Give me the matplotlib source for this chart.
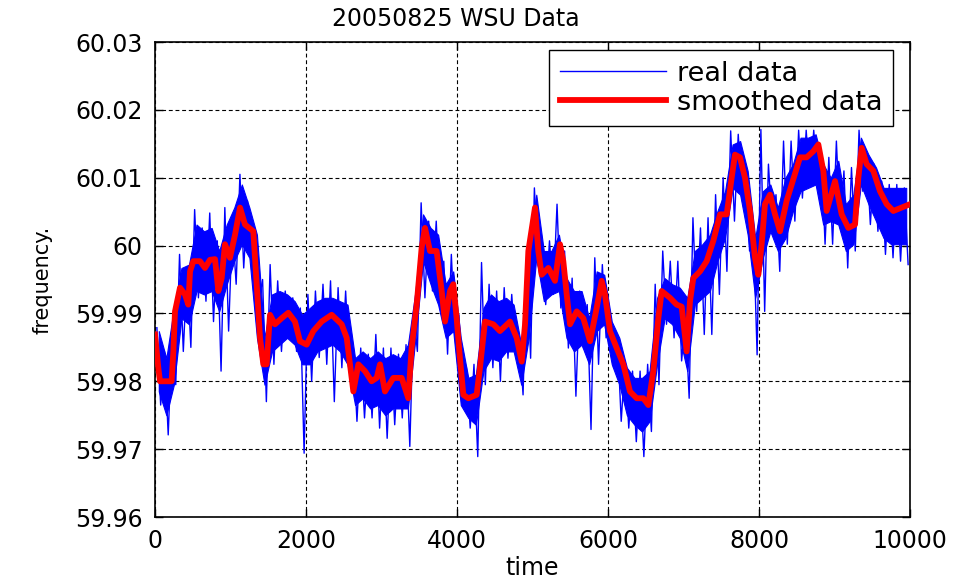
import numpy as np
import matplotlib
matplotlib.use("Agg")
import matplotlib.pyplot as plt
from matplotlib.lines import Line2D

# smoothed curve (time, frequency)
smooth_t = [0, 44, 66, 220, 243, 265, 331, 397, 441, 464, 508, 596, 662, 728, 795,
            839, 883, 927, 993, 1060, 1126, 1192, 1302, 1347, 1391, 1435, 1479, 1523,
            1589, 1678, 1766, 1854, 1920, 2009, 2097, 2207, 2340, 2472, 2539, 2627,
            2693, 2781, 2869, 2936, 2980, 3046, 3157, 3267, 3355, 3399, 3466, 3532,
            3576, 3642, 3730, 3797, 3841, 3907, 3951, 3995, 4039, 4084, 4150, 4260,
            4304, 4371, 4481, 4569, 4702, 4790, 4857, 4901, 4945, 5033, 5077, 5121,
            5210, 5298, 5364, 5408, 5453, 5497, 5585, 5673, 5762, 5850, 5916, 5960,
            6026, 6115, 6203, 6291, 6380, 6468, 6534, 6600, 6667, 6711, 6821, 6909,
            6976, 7042, 7086, 7130, 7219, 7307, 7395, 7484, 7572, 7638, 7682, 7748,
            7814, 7881, 7947, 7991, 8035, 8079, 8146, 8212, 8278, 8366, 8433, 8543,
            8631, 8720, 8786, 8852, 8896, 9007, 9095, 9183, 9272, 9316, 9360, 9426,
            9514, 9603, 9691, 9779, 9890, 10000]
smooth_f = [59.9869, 59.9820, 59.9800, 59.9800, 59.9844, 59.9903, 59.9938, 59.9928,
            59.9913, 59.9962, 59.9977, 59.9977, 59.9967, 59.9979, 59.9980, 59.9933,
            59.9952, 60.0002, 59.9982, 60.0016, 60.0056, 60.0031, 60.0021, 59.9943,
            59.9864, 59.9825, 59.9825, 59.9898, 59.9884, 59.9893, 59.9901, 59.9888,
            59.9859, 59.9854, 59.9874, 59.9888, 59.9898, 59.9884, 59.9864, 59.9785,
            59.9825, 59.9815, 59.9800, 59.9805, 59.9825, 59.9785, 59.9805, 59.9805,
            59.9775, 59.9849, 59.9913, 59.9997, 60.0026, 59.9992, 59.9992, 59.9933,
            59.9888, 59.9933, 59.9943, 59.9893, 59.9834, 59.9780, 59.9775, 59.9780,
            59.9820, 59.9888, 59.9884, 59.9874, 59.9888, 59.9864, 59.9829, 59.9884,
            59.9992, 60.0056, 59.9992, 59.9957, 59.9967, 59.9948, 60.0002, 59.9977,
            59.9928, 59.9884, 59.9903, 59.9893, 59.9859, 59.9908, 59.9948, 59.9928,
            59.9874, 59.9849, 59.9825, 59.9785, 59.9775, 59.9775, 59.9765, 59.9815,
            59.9893, 59.9933, 59.9923, 59.9913, 59.9910, 59.9844, 59.9918, 59.9952,
            59.9962, 59.9977, 60.0007, 60.0046, 60.0046, 60.0100, 60.0134, 60.0130,
            60.0100, 60.0051, 59.9982, 59.9957, 60.0002, 60.0061, 60.0075, 60.0046,
            60.0021, 60.0066, 60.0090, 60.0130, 60.0130, 60.0139, 60.0149, 60.0110,
            60.0051, 60.0095, 60.0046, 60.0026, 60.0031, 60.0100, 60.0144, 60.0120,
            60.0110, 60.0080, 60.0061, 60.0051, 60.0056, 60.0061]

# raw data per 100-sample block
block_start = np.arange(0, 10000, 100)
# extreme readings (spikes)
raw_high = [59.9879, 59.9844, 59.9864, 59.9987, 59.9967, 60.0053, 60.0026, 60.0048, 60.0007, 60.0056,
            60.0031, 60.0105, 60.0066, 60.0012, 59.9950, 59.9972, 59.9948, 59.9933, 59.9923, 59.9908,
            59.9928, 59.9933, 59.9943, 59.9948, 59.9938, 59.9933, 59.9849, 59.9849, 59.9840, 59.9869,
            59.9849, 59.9849, 59.9840, 59.9854, 59.9903, 60.0063, 60.0036, 60.0036, 59.9977, 59.9987,
            59.9898, 59.9820, 59.9825, 59.9975, 59.9943, 59.9933, 59.9938, 59.9928, 59.9864, 59.9992,
            60.0085, 60.0007, 60.0007, 60.0061, 59.9992, 59.9952, 59.9933, 59.9913, 59.9982, 59.9972,
            59.9898, 59.9864, 59.9830, 59.9815, 59.9815, 59.9825, 59.9943, 59.9992, 59.9977, 59.9977,
            59.9893, 60.0041, 60.0026, 60.0041, 60.0075, 60.0100, 60.0169, 60.0164, 60.0110, 60.0026,
            60.0171, 60.0120, 60.0075, 60.0154, 60.0154, 60.0170, 60.0170, 60.0170, 60.0139, 60.0130,
            60.0154, 60.0110, 60.0115, 60.0170, 60.0134, 60.0120, 60.0095, 60.0090, 60.0090, 60.0085]
raw_low = [59.9765, 59.9721, 59.9795, 59.9844, 59.9850, 59.9923, 59.9918, 59.9888, 59.9815, 59.9874,
           59.9943, 59.9967, 59.9992, 59.9918, 59.9770, 59.9825, 59.9844, 59.9864, 59.9844, 59.9694,
           59.9800, 59.9835, 59.9825, 59.9770, 59.9820, 59.9820, 59.9741, 59.9746, 59.9746, 59.9731,
           59.9716, 59.9736, 59.9746, 59.9704, 59.9844, 59.9923, 59.9933, 59.9908, 59.9840, 59.9864,
           59.9775, 59.9731, 59.9689, 59.9795, 59.9820, 59.9800, 59.9834, 59.9844, 59.9780, 59.9834,
           59.9970, 59.9913, 59.9928, 59.9908, 59.9849, 59.9778, 59.9849, 59.9729, 59.9825, 59.9864,
           59.9820, 59.9741, 59.9731, 59.9711, 59.9689, 59.9726, 59.9795, 59.9884, 59.9864, 59.9830,
           59.9775, 59.9903, 59.9869, 59.9869, 59.9928, 59.9962, 60.0036, 60.0070, 59.9992, 59.9839,
           59.9903, 60.0026, 59.9962, 60.0002, 60.0036, 60.0070, 60.0090, 60.0100, 60.0002, 60.0002,
           60.0026, 59.9967, 59.9992, 60.0080, 60.0031, 60.0021, 59.9987, 59.9982, 59.9977, 59.9972]
# edges of the dense part of the trace
core_high = [59.9874, 59.9834, 59.9908, 59.9967, 59.9972, 60.0031, 60.0021, 60.0026, 59.9992, 60.0031,
             60.0056, 60.0090, 60.0056, 60.0016, 59.9864, 59.9928, 59.9933, 59.9928, 59.9918, 59.9898,
             59.9908, 59.9918, 59.9923, 59.9923, 59.9918, 59.9913, 59.9834, 59.9844, 59.9834, 59.9844,
             59.9834, 59.9840, 59.9834, 59.9854, 59.9933, 60.0046, 60.0026, 60.0016, 59.9943, 59.9962,
             59.9864, 59.9805, 59.9810, 59.9908, 59.9928, 59.9918, 59.9923, 59.9913, 59.9854, 60.0002,
             60.0075, 59.9992, 59.9992, 60.0016, 59.9952, 59.9933, 59.9933, 59.9893, 59.9962, 59.9957,
             59.9888, 59.9864, 59.9820, 59.9805, 59.9805, 59.9815, 59.9923, 59.9952, 59.9943, 59.9938,
             59.9923, 59.9992, 60.0002, 60.0016, 60.0051, 60.0080, 60.0149, 60.0154, 60.0110, 60.0011,
             60.0080, 60.0090, 60.0056, 60.0100, 60.0120, 60.0159, 60.0159, 60.0164, 60.0120, 60.0100,
             60.0125, 60.0061, 60.0075, 60.0159, 60.0134, 60.0115, 60.0085, 60.0085, 60.0085, 60.0085]
core_low = [59.9785, 59.9750, 59.9795, 59.9893, 59.9884, 59.9933, 59.9928, 59.9933, 59.9903, 59.9943,
            59.9977, 60.0002, 59.9982, 59.9864, 59.9795, 59.9844, 59.9854, 59.9864, 59.9854, 59.9825,
            59.9825, 59.9844, 59.9849, 59.9854, 59.9844, 59.9825, 59.9765, 59.9775, 59.9760, 59.9765,
            59.9750, 59.9760, 59.9760, 59.9760, 59.9864, 59.9977, 59.9943, 59.9913, 59.9864, 59.9874,
            59.9765, 59.9746, 59.9736, 59.9815, 59.9834, 59.9830, 59.9844, 59.9844, 59.9795, 59.9864,
            59.9982, 59.9918, 59.9928, 59.9933, 59.9864, 59.9844, 59.9854, 59.9825, 59.9874, 59.9884,
            59.9825, 59.9795, 59.9750, 59.9736, 59.9726, 59.9741, 59.9825, 59.9893, 59.9884, 59.9864,
            59.9815, 59.9913, 59.9923, 59.9933, 59.9977, 60.0011, 60.0085, 60.0075, 60.0016, 59.9923,
            59.9982, 60.0021, 59.9992, 60.0011, 60.0051, 60.0080, 60.0085, 60.0090, 60.0031, 60.0036,
            60.0031, 59.9992, 60.0002, 60.0090, 60.0061, 60.0036, 60.0011, 60.0002, 60.0002, 60.0002]

x_ticks = [0, 2000, 4000, 6000, 8000, 10000]
y_ticks = [59.96, 59.97, 59.98, 59.99, 60.00, 60.01, 60.02, 60.03]
y_labels = ['59.96', '59.97', '59.98', '59.99', '60', '60.01', '60.02', '60.03']

plt.rcParams['font.family'] = ['DejaVu Sans']

fig = plt.figure(figsize=(9.58, 5.86), dpi=100)
ax = fig.add_axes([155 / 958, 1 - 517 / 586, 755 / 958, 475 / 586])

blue = '#0000ff'
# dense part of the noisy trace
ax.fill_between(block_start + 50, core_low, core_high, color=blue, linewidth=0.8,
                edgecolor=blue, zorder=2)
# ragged part: swing between highest and lowest reading of each block
raw_t = np.column_stack([block_start + 25, block_start + 75]).ravel()
raw_f = np.column_stack([raw_high, raw_low]).ravel()
ax.plot(raw_t, raw_f, color=blue, linewidth=1.0, zorder=2)
ax.plot(smooth_t, smooth_f, color='#ff0000', linewidth=4.2, zorder=3)

ax.set_xlim(0, 10000)
ax.set_ylim(59.96, 60.03)
ax.set_xticks(x_ticks)
ax.set_yticks(y_ticks)
ax.set_yticklabels(y_labels)
ax.tick_params(direction='in', top=True, right=True, length=6, width=1,
               labelsize=17, pad=9, colors='black')
ax.grid(True, color='black', linestyle=(0, (3.5, 2.5)), linewidth=0.8)
for s in ax.spines.values():
    s.set_linewidth(1.2)

ax.set_xlabel('time', fontsize=17, labelpad=2)
ax.set_ylabel('frequency.', fontsize=15, labelpad=16)
fig.text(456 / 958, 1 - 19 / 586, '20050825 WSU Data', fontsize=17,
         ha='center', va='center')

handles = [Line2D([], [], color=blue, linewidth=1.0),
           Line2D([], [], color='#ff0000', linewidth=4.2)]
leg = ax.legend(handles, ['real data', 'smoothed data'], loc='upper right',
                bbox_to_anchor=(893 / 958, 1 - 50 / 586),
                bbox_transform=fig.transFigure, fontsize=19.5, handlelength=3.9,
                handletextpad=0.4, borderpad=0.4, labelspacing=0.1,
                fancybox=False, framealpha=1, edgecolor='black', borderaxespad=0)
leg.get_frame().set_linewidth(1.0)
leg.set_zorder(10)

fig.savefig('out.png', dpi=100)
